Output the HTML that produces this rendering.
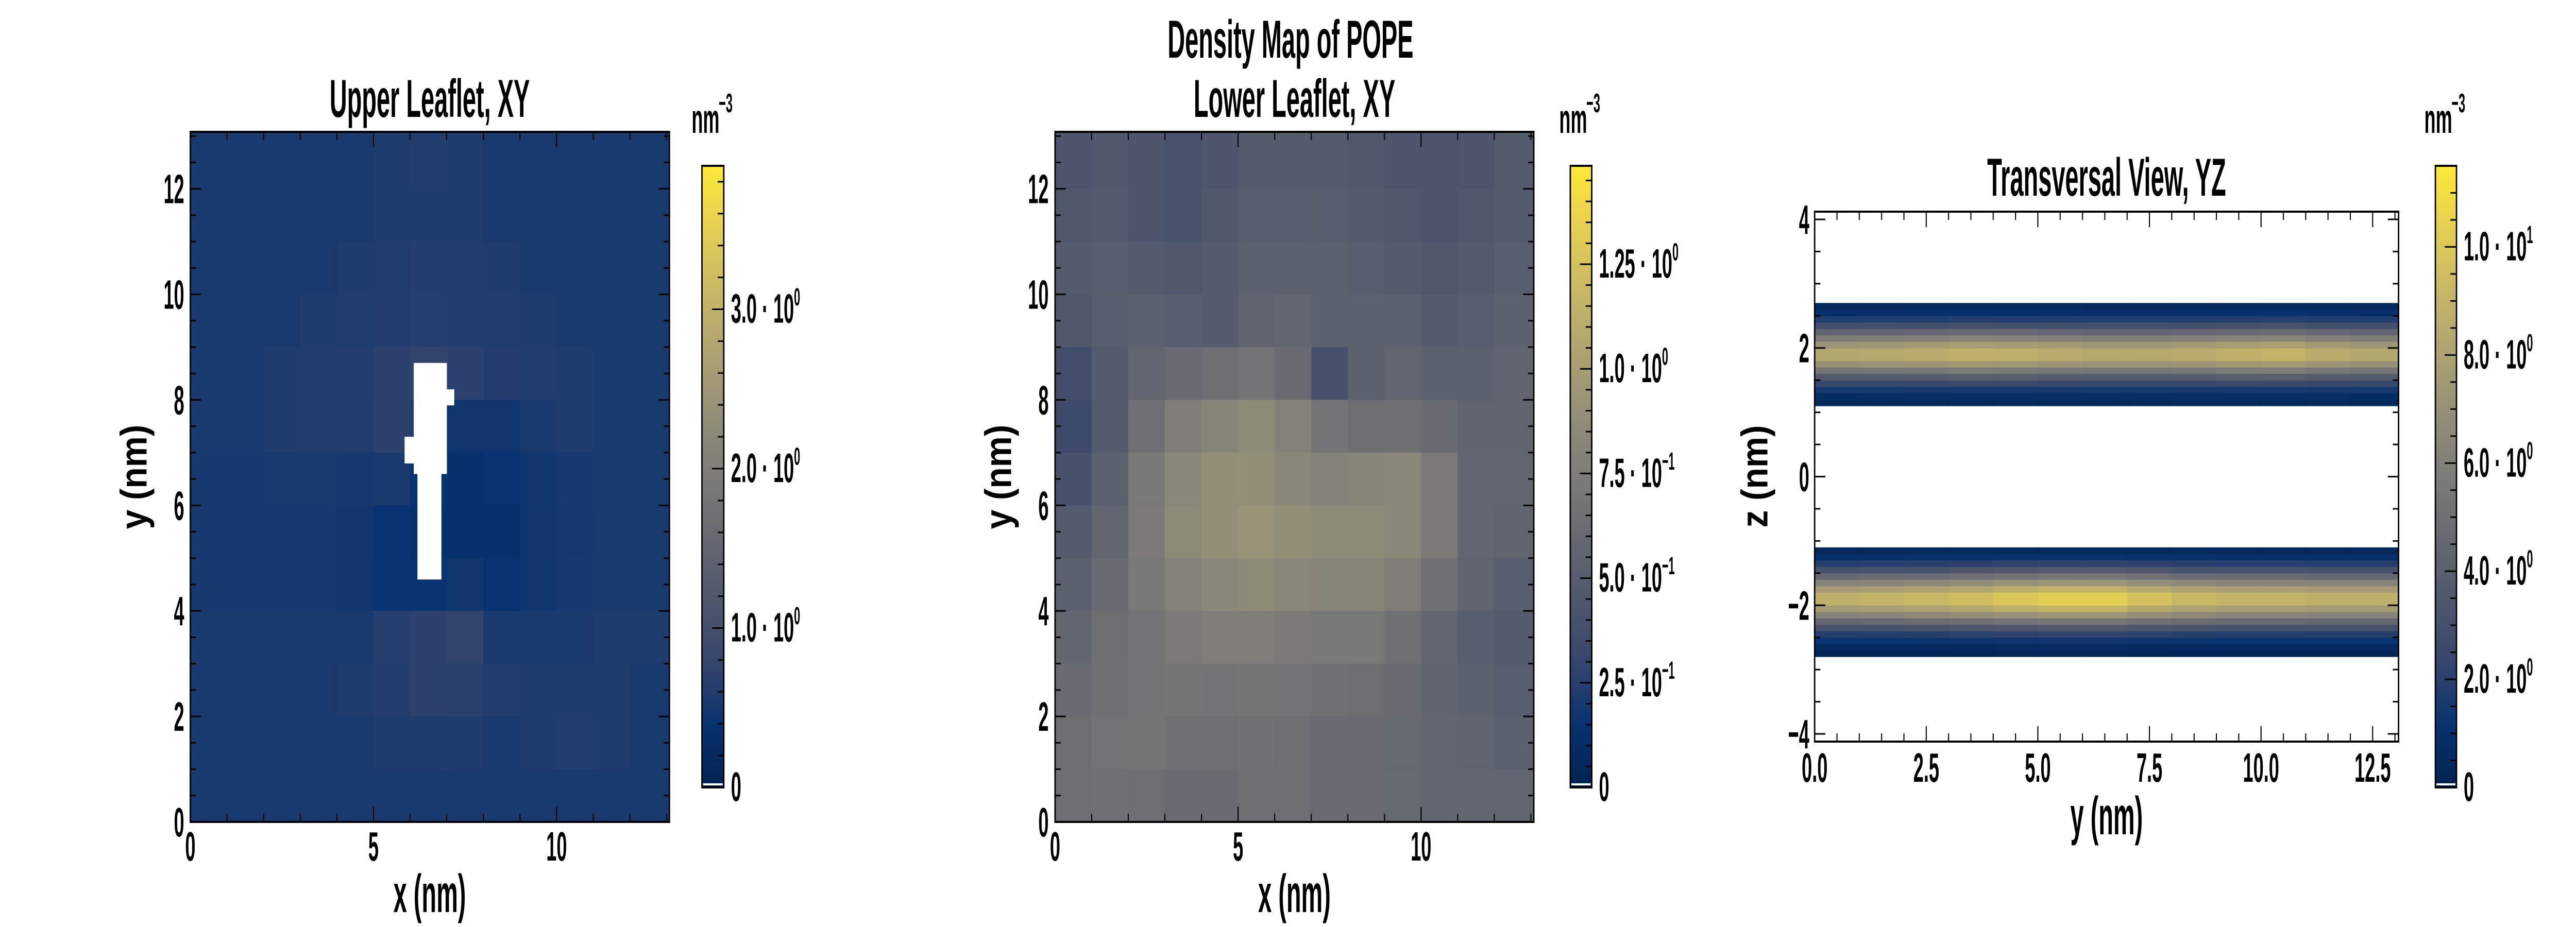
<!DOCTYPE html>
<html><head><meta charset="utf-8"><style>
html,body{margin:0;padding:0;background:#fff;width:100%;height:100%;overflow:hidden;}
svg{display:block;position:fixed;left:0;top:0;width:100vw;height:100vh;}
text{font-family:"Liberation Sans",sans-serif;font-weight:bold;fill:#000;}
</style></head><body>
<svg id="fig" viewBox="0 0 7200 1800" preserveAspectRatio="none" xmlns="http://www.w3.org/2000/svg">
<defs><linearGradient id="cividis" x1="0" y1="1" x2="0" y2="0"></linearGradient></defs>
<rect x="0" y="0" width="7200" height="1800" fill="#fff"/>
</svg>
<script>
// ---------- data ----------
// Upper leaflet XY density (nm^-3), 1 nm cells, rows top (y=12..13) to bottom (y=0..1), cols x=0..12
const upperGrid = [
[0.55,0.55,0.55,0.55,0.55,0.58,0.60,0.58,0.55,0.55,0.55,0.55,0.55],
[0.55,0.55,0.55,0.55,0.55,0.58,0.58,0.58,0.55,0.55,0.55,0.55,0.55],
[0.55,0.55,0.55,0.55,0.58,0.60,0.62,0.60,0.58,0.55,0.55,0.55,0.55],
[0.55,0.55,0.55,0.58,0.60,0.62,0.65,0.62,0.60,0.58,0.55,0.55,0.55],
[0.55,0.55,0.58,0.60,0.62,0.70,0.75,0.70,0.62,0.60,0.58,0.55,0.55],
[0.55,0.55,0.58,0.60,0.60,0.70,0.60,0.45,0.45,0.55,0.58,0.55,0.55],
[0.52,0.52,0.55,0.55,0.50,0.55,0.40,0.35,0.40,0.45,0.52,0.55,0.55],
[0.52,0.52,0.52,0.52,0.45,0.40,0.35,0.35,0.35,0.45,0.50,0.55,0.55],
[0.52,0.52,0.52,0.52,0.48,0.40,0.40,0.45,0.40,0.45,0.52,0.55,0.55],
[0.55,0.55,0.55,0.55,0.55,0.65,0.70,0.75,0.55,0.55,0.55,0.58,0.58],
[0.55,0.55,0.55,0.55,0.58,0.62,0.70,0.68,0.60,0.58,0.58,0.58,0.55],
[0.55,0.55,0.55,0.55,0.55,0.58,0.58,0.58,0.55,0.58,0.60,0.58,0.55],
[0.55,0.55,0.55,0.55,0.55,0.55,0.55,0.55,0.55,0.55,0.55,0.55,0.55]
];
// empty (no-density) regions in upper leaflet: [x0, x1, y0, y1] nm
const upperVoids = [[6.1,7.0,6.6,8.7],[5.85,6.6,6.8,7.3],[6.2,6.85,4.6,6.6],[6.6,7.2,7.9,8.2]];
// Lower leaflet XY density, rows top to bottom
const lowerGrid = [
[0.43,0.45,0.43,0.41,0.43,0.48,0.48,0.48,0.45,0.43,0.43,0.43,0.48],
[0.45,0.48,0.43,0.41,0.45,0.50,0.50,0.50,0.48,0.45,0.43,0.45,0.48],
[0.48,0.50,0.48,0.45,0.48,0.53,0.53,0.53,0.50,0.48,0.45,0.48,0.50],
[0.45,0.50,0.53,0.50,0.48,0.55,0.57,0.53,0.53,0.53,0.48,0.50,0.53],
[0.37,0.48,0.57,0.61,0.63,0.68,0.61,0.40,0.53,0.57,0.53,0.53,0.55],
[0.34,0.48,0.65,0.75,0.81,0.85,0.78,0.68,0.63,0.65,0.61,0.55,0.55],
[0.40,0.53,0.71,0.83,0.88,0.88,0.83,0.78,0.81,0.83,0.73,0.57,0.57],
[0.48,0.57,0.73,0.85,0.88,0.92,0.88,0.85,0.85,0.83,0.73,0.57,0.55],
[0.53,0.61,0.71,0.78,0.83,0.85,0.83,0.81,0.81,0.75,0.65,0.55,0.50],
[0.57,0.63,0.68,0.73,0.75,0.75,0.73,0.71,0.71,0.65,0.57,0.50,0.48],
[0.61,0.65,0.68,0.69,0.68,0.69,0.68,0.65,0.63,0.61,0.55,0.53,0.50],
[0.63,0.68,0.69,0.65,0.63,0.65,0.63,0.61,0.61,0.59,0.57,0.55,0.53],
[0.63,0.65,0.63,0.61,0.61,0.63,0.63,0.61,0.61,0.59,0.57,0.57,0.57]
];
// Transversal YZ: density profile along z (0.1 nm bins, value for bin [z, z+0.1])
const upperZ = [1.1,1.2,1.3,1.4,1.5,1.6,1.7,1.8,1.9,2.0,2.1,2.2,2.3,2.4,2.5,2.6];
const upperDensity = [0.4,0.8,1.5,2.5,3.8,5.5,7.2,8.5,8.5,7.5,6.0,4.5,3.0,1.8,1.0,0.5];
const lowerZ = [-2.8,-2.7,-2.6,-2.5,-2.4,-2.3,-2.2,-2.1,-2.0,-1.9,-1.8,-1.7,-1.6,-1.5,-1.4,-1.3,-1.2];
const lowerDensity = [0.3,0.6,1.2,2.0,3.2,4.8,6.5,8.0,9.2,9.2,8.0,6.5,4.8,3.2,2.0,1.0,0.4];
// relative modulation along y (1 nm segments)
const upperYFactor = [0.97,0.98,1.0,1.03,1.02,1.0,0.98,0.98,1.0,1.03,1.05,1.0,0.97,0.97];
const lowerYFactor = [0.95,0.97,1.0,1.03,1.08,1.12,1.12,1.05,1.0,0.97,0.97,0.95,0.95,0.95];
// tick labels
const xyTicks = [0,5,10];
const xyYTicks = [0,2,4,6,8,10,12];
const yzXTicks = ["0.0","2.5","5.0","7.5","10.0","12.5"];
const yzZTicks = [-4,-2,0,2,4];
const cb1Ticks = [0,1,2,3];
const cb1Labels = ["0","1.0 · 10^0","2.0 · 10^0","3.0 · 10^0"];
const cb2Ticks = [0,0.25,0.5,0.75,1.0,1.25];
const cb2Labels = ["0","2.5 · 10^−1","5.0 · 10^−1","7.5 · 10^−1","1.0 · 10^0","1.25 · 10^0"];
const cb3Ticks = [0,2,4,6,8,10];
const cb3Labels = ["0","2.0 · 10^0","4.0 · 10^0","6.0 · 10^0","8.0 · 10^0","1.0 · 10^1"];

// ---------- helpers ----------
const NS = "http://www.w3.org/2000/svg";
const svg = document.getElementById('fig');
const CIV = [[0,[0,34,78]],[0.1,[8,51,112]],[0.2,[53,69,108]],[0.3,[79,87,108]],[0.4,[102,105,112]],[0.5,[125,124,120]],[0.6,[148,143,120]],[0.7,[174,163,113]],[0.8,[200,184,102]],[0.9,[229,207,82]],[1,[254,232,56]]];
function cmap(t){
  t=Math.max(0,Math.min(1,t));
  for(let i=1;i<CIV.length;i++){
    if(t<=CIV[i][0]){const a=CIV[i-1],b=CIV[i];const f=(t-a[0])/(b[0]-a[0]);
      const c=a[1].map((v,k)=>Math.round(v+(b[1][k]-v)*f));return `rgb(${c[0]},${c[1]},${c[2]})`;}
  }
  return 'rgb(254,232,56)';
}
const grad=document.getElementById('cividis');
CIV.forEach(s=>{const st=document.createElementNS(NS,'stop');st.setAttribute('offset',s[0]);st.setAttribute('stop-color',`rgb(${s[1].join(',')})`);grad.appendChild(st);});

function el(tag,attrs,parent){const e=document.createElementNS(NS,tag);for(const k in attrs)e.setAttribute(k,attrs[k]);(parent||svg).appendChild(e);return e;}
const SX=0.65;
function txt(x,y,str,size,anchor,name,rot){
  const g=document.createElementNS(NS,'g');
  g.setAttribute('transform',`translate(${x},${y})`+(rot?` rotate(${rot})`:'')+` scale(${SX},1)`);
  
  
  const t=document.createElementNS(NS,'text');
  t.setAttribute('font-size',size);t.setAttribute('text-anchor',anchor||'start');
  const parts=str.split('^');
  t.appendChild(document.createTextNode(parts[0]));
  if(parts[1]!==undefined){const s=document.createElementNS(NS,'tspan');s.setAttribute('font-size',size*0.6);s.setAttribute('dy',-size*0.42);s.textContent=parts[1];t.appendChild(s);}
  g.appendChild(t);svg.appendChild(g);return g;
}
function line(x1,y1,x2,y2,name,w){const l=el('line',{x1,y1,x2,y2,stroke:'#000','stroke-width':w||3});return l;}

function axesFrame(P,name){
  const r=el('rect',{x:P.L,y:P.T,width:P.R-P.L,height:P.B-P.T,fill:'none',stroke:'#000','stroke-width':4});
  
  
}
function ticksX(P,vals,minorStep,prefix){
  for(let v=P.x0;v<=P.x1+1e-9;v+=minorStep){const X=P.sx(v);const maj=vals.some(m=>Math.abs(m-v)<1e-6);const L=maj?30:16;
    line(X,P.B,X,P.B-L,prefix+'-x-tick',3);line(X,P.T,X,P.T+L,prefix+'-x-tick-top',3);}
}
function ticksY(P,vals,minorStep,prefix){
  for(let v=Math.ceil(P.y0/minorStep)*minorStep;v<=P.y1+1e-9;v+=minorStep){const Y=P.sy(v);const maj=vals.some(m=>Math.abs(m-v)<1e-6);const L=maj?30:16;
    line(P.L,Y,P.L+L,Y,prefix+'-y-tick',3);line(P.R,Y,P.R-L,Y,prefix+'-y-tick-right',3);}
}
function panel(L,R,T,B,x0,x1,y0,y1){return {L,R,T,B,x0,x1,y0,y1,sx:v=>L+(v-x0)/(x1-x0)*(R-L),sy:v=>B-(v-y0)/(y1-y0)*(B-T)};}
function cell(P,xa,xb,ya,yb,fill,name){
  const xA=P.sx(Math.max(xa,P.x0)),xB=P.sx(Math.min(xb,P.x1)),yA=P.sy(Math.min(yb,P.y1)),yB=P.sy(Math.max(ya,P.y0));
  const r=el('rect',{x:xA,y:yA,width:xB-xA+0.5,height:yB-yA+0.5,fill});
  
  
}
function gridMap(P,grid,vmax,name){
  const n=grid.length;
  grid.forEach((row,ri)=>{const y0=n-1-ri;row.forEach((v,ci)=>{
    const xb=(ci===row.length-1)?P.x1:ci+1, yb=(ri===0)?P.y1:y0+1;
    cell(P,ci,xb,y0,yb,cmap(v/vmax),name);});});
}
function colorbar(L,R,T,B,vmax,ticks,labels,minorStep,name){
  const r=el('rect',{x:L,y:T,width:R-L,height:B-T,fill:'url(#cividis)',stroke:'#000','stroke-width':4});
  
  
  const sy=v=>B-v/vmax*(B-T);
  for(let v=0;v<=vmax+1e-9;v+=minorStep){const maj=ticks.some(m=>Math.abs(m-v)<1e-6);line(R,sy(v),R-(maj?33:17),sy(v),name+'-tick',3);}
  ticks.forEach((v,i)=>txt(R+20,sy(v)+26,labels[i],80,'start',name+'-label'));
  line(L+3,B-6,R-3,B-6,name+'-under',4).setAttribute('stroke','#fff');
}
function unitLabel(x,y){txt(x,y,'nm',80,'start','colorbar-unit');txt(x+76,y-40,'−3',52,'start','colorbar-unit-exponent');}

// ---------- Panel 1: Upper leaflet ----------
const P1=panel(532,1871,256,1596,0,13.08,0,13.08);
gridMap(P1,upperGrid,3.9,'upper-density-cell');
upperVoids.forEach(v=>cell(P1,v[0],v[1],v[2],v[3],'#fff','upper-void'));
axesFrame(P1,'upper-axes-frame');
ticksX(P1,xyTicks,1,'upper');ticksY(P1,xyYTicks,0.5,'upper');
xyTicks.forEach(v=>txt(P1.sx(v),1671,String(v),80,'middle','upper-x-tick-label'));
xyYTicks.forEach(v=>txt(515,P1.sy(v)+28,String(v),80,'end','upper-y-tick-label'));
txt(1201,227,'Upper Leaflet, XY',104,'middle','upper-title');
txt(1201,1771,'x (nm)',104,'middle','upper-x-axis-title');
txt(410,926,'y (nm)',104,'middle','upper-y-axis-title',-90);
colorbar(1962,2023,322,1529,3.9,cb1Ticks,cb1Labels,0.2,'upper-colorbar');
unitLabel(1933,258);

// ---------- Panel 2: Lower leaflet ----------
const P2=panel(2949,4287,256,1596,0,13.08,0,13.08);
gridMap(P2,lowerGrid,1.485,'lower-density-cell');
axesFrame(P2,'lower-axes-frame');
ticksX(P2,xyTicks,1,'lower');ticksY(P2,xyYTicks,0.5,'lower');
xyTicks.forEach(v=>txt(P2.sx(v),1671,String(v),80,'middle','lower-x-tick-label'));
xyYTicks.forEach(v=>txt(2931,P2.sy(v)+28,String(v),80,'end','lower-y-tick-label'));
txt(3607,112,'Density Map of POPE',104,'middle','figure-title');
txt(3618,227,'Lower Leaflet, XY',104,'middle','lower-title');
txt(3618,1771,'x (nm)',104,'middle','lower-x-axis-title');
txt(2826,926,'y (nm)',104,'middle','lower-y-axis-title',-90);
colorbar(4389,4449,322,1529,1.485,cb2Ticks,cb2Labels,0.05,'lower-colorbar');
unitLabel(4358,258);

// ---------- Panel 3: Transversal YZ ----------
const P3=panel(5072,6704,411,1440,0,13.08,-4.12,4.12);
function band(zs,ds,fac,name){
  fac.forEach((f,yi)=>{const ya=yi,yb=Math.min(yi+1,P3.x1);if(ya>=P3.x1)return;
    zs.forEach((z,k)=>{cell(P3,ya,yb,z,z+0.1,cmap(ds[k]*f/11.5),name);});});
}
band(upperZ,upperDensity,upperYFactor,'upper-band-cell');
band(lowerZ,lowerDensity,lowerYFactor,'lower-band-cell');
axesFrame(P3,'yz-axes-frame');
const yzXVals=yzXTicks.map(Number);
ticksX(P3,yzXVals,0.5,'yz');ticksY(P3,yzZTicks,0.5,'yz');
yzXTicks.forEach(s=>txt(P3.sx(Number(s)),1518,s,80,'middle','yz-x-tick-label'));
yzZTicks.forEach(v=>txt(5057,P3.sy(v)+28,(v<0?'−':'')+Math.abs(v),80,'end','yz-z-tick-label'));
txt(5888,380,'Transversal View, YZ',104,'middle','yz-title');
txt(5888,1620,'y (nm)',104,'middle','yz-x-axis-title');
txt(4940,925,'z (nm)',104,'middle','yz-z-axis-title',-90);
colorbar(6807,6866,322,1529,11.5,cb3Ticks,cb3Labels,0.5,'yz-colorbar');
unitLabel(6776,258);
</script>
</body></html>
